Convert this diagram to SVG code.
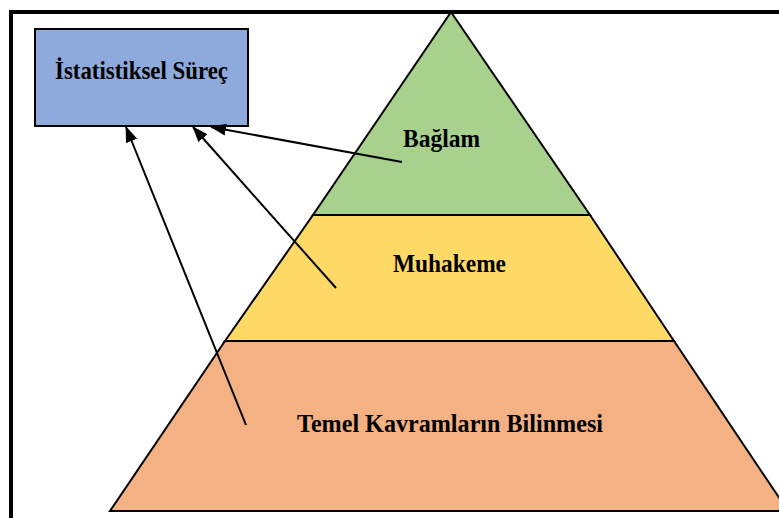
<svg xmlns="http://www.w3.org/2000/svg" width="779" height="518" viewBox="0 0 779 518">
<style>
.t{font-family:"Liberation Serif","Times New Roman",serif;font-weight:bold;font-size:25px;fill:#000;text-anchor:middle}
.c{stroke:#000;stroke-width:2;fill:none}
.s{stroke:#000;stroke-width:2}
</style>
<defs>
<marker id="ah" viewBox="0 0 16 12" refX="15" refY="6" markerWidth="16" markerHeight="12" markerUnits="userSpaceOnUse" orient="auto">
<path d="M0,0 L16,6 L0,12 z" fill="#000"/>
</marker>
</defs>
<rect width="779" height="518" fill="#fff"/>
<path d="M11,518 V12 H779" fill="none" stroke="#000" stroke-width="4"/>
<g id="temel">
<polygon class="s" points="225,341 674,341 788,511 110,511" fill="#F4B183"/>
<text class="t" x="450" y="432" textLength="306" lengthAdjust="spacingAndGlyphs">Temel Kavramların Bilinmesi</text>
</g>
<g id="muhakeme">
<polygon class="s" points="313,215 590,215 674,341 225,341" fill="#FFD966"/>
<text class="t" x="449.5" y="272" textLength="113" lengthAdjust="spacingAndGlyphs">Muhakeme</text>
</g>
<g id="baglam">
<polygon class="s" points="451,12 590,215 313,215" fill="#A9D18E"/>
<text class="t" x="441.5" y="147" textLength="77" lengthAdjust="spacingAndGlyphs">Bağlam</text>
</g>
<g id="surec">
<rect x="35" y="29" width="213" height="97" fill="#8EA9DB" stroke="#000" stroke-width="2"/>
<text class="t" x="141.5" y="79" font-size="23" textLength="173" lengthAdjust="spacingAndGlyphs">İstatistiksel Süreç</text>
</g>
<g id="connectors">
<line class="c" x1="402" y1="162" x2="211" y2="127" marker-end="url(#ah)"/>
<line class="c" x1="336" y1="288" x2="193" y2="127" marker-end="url(#ah)"/>
<line class="c" x1="246" y1="425" x2="126" y2="127" marker-end="url(#ah)"/>
</g>
</svg>
